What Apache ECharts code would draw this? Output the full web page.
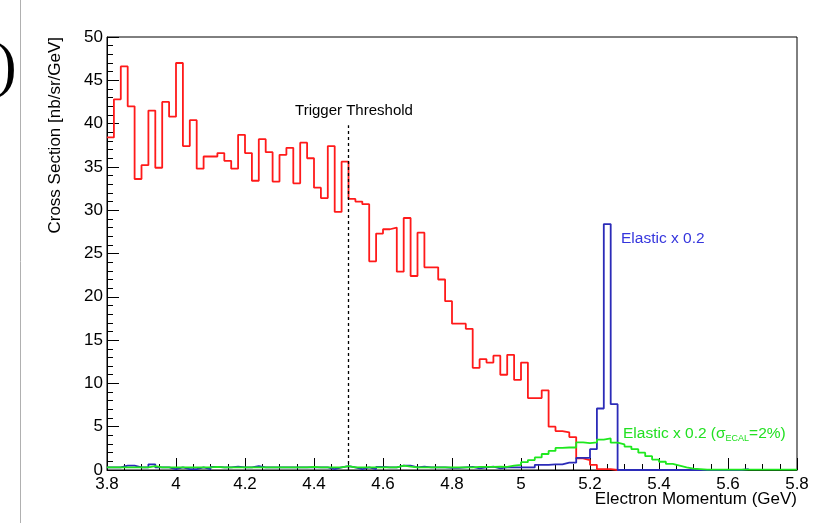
<!DOCTYPE html>
<html>
<head>
<meta charset="utf-8">
<script src="https://cdn.jsdelivr.net/npm/echarts@6/dist/echarts.min.js"></script>
<style>
  html, body { margin: 0; padding: 0; background: #fff; }
  #chart { width: 814px; height: 523px; }
</style>
</head>
<body>
<div id="chart"></div>
<script>
// histogram binning (GeV)
var binStart = 3.8;
var binWidth = 0.02;

// inclusive cross section, one value per 0.02 GeV bin from 3.80
var redValues = [
  38.4, 42.8, 46.6, 42.0, 33.6, 35.2, 41.5, 34.9, 42.5, 40.8,
  47.0, 37.4, 40.4, 34.8, 36.2, 36.2, 36.6, 35.7, 34.8, 38.7,
  36.6, 33.4, 38.2, 36.7, 33.3, 36.4, 37.2, 33.1, 37.8, 36.0,
  32.6, 31.4, 37.4, 29.8, 35.6, 31.3, 31.0, 30.7, 24.1, 27.3,
  27.8, 28.0, 22.9, 29.1, 22.4, 27.4, 23.4, 23.4, 22.0, 19.5,
  16.9, 16.9, 16.3, 11.8, 12.8, 12.4, 13.2, 11.0, 13.3, 10.4,
  12.4, 8.3, 8.3, 9.2, 5.0, 4.5, 4.35, 3.8, 1.35, 1.15,
  0.6, 0.1, 0.1, 0, 0
];

// elastic x 0.2
var blueValues = [
  0.3, 0.3, 0.5, 0.5, 0.3, 0.3, 0.65, 0.3, 0.3, 0.1,
  0.3, 0.1, 0.1, 0.3, 0.1, 0.35, 0.3, 0.3, 0.4, 0.3,
  0.3, 0.45, 0.3, 0.3, 0.3, 0.3, 0.3, 0.3, 0.3, 0.3,
  0.3, 0.3, 0.1, 0.3, 0.45, 0.3, 0.1, 0.3, 0.1, 0.35,
  0.3, 0.3, 0.5, 0.5, 0.3, 0.4, 0.3, 0.3, 0.3, 0.25,
  0.25, 0.3, 0.35, 0.2, 0.3, 0.4, 0.2, 0.3, 0.3, 0.3,
  0.3, 0.3, 0.6, 0.6, 0.65, 0.65, 0.85, 0.85, 1.4, 1.4,
  2.4, 7.1, 28.4, 7.6, 0, 0, 0, 0, 0, 0,
  0, 0, 0, 0, 0, 0, 0, 0, 0, 0,
  0, 0, 0.1
];

// elastic x 0.2 smeared (sigma_ECAL = 2%)
var greenValues = [
  0.3, 0.3, 0.3, 0.3, 0.3, 0.3, 0.45, 0.3, 0.3, 0.3,
  0.3, 0.3, 0.3, 0.3, 0.3, 0.35, 0.3, 0.3, 0.3, 0.3,
  0.3, 0.3, 0.3, 0.3, 0.3, 0.3, 0.3, 0.3, 0.3, 0.35,
  0.3, 0.3, 0.3, 0.3, 0.45, 0.3, 0.3, 0.3, 0.3, 0.3,
  0.3, 0.3, 0.5, 0.4, 0.3, 0.3, 0.3, 0.3, 0.3, 0.3,
  0.3, 0.3, 0.3, 0.35, 0.35, 0.35, 0.4, 0.35, 0.5, 0.6,
  0.9, 1.15, 1.45, 1.85, 2.2, 2.55, 2.6, 2.6, 3.2, 3.1,
  3.2, 3.5, 3.65, 3.15, 2.95, 2.7, 2.4, 2.0, 1.6, 1.2,
  0.95, 0.7, 0.5, 0.3, 0.15, 0.1, 0.05, 0.05, 0.05, 0.05,
  0.05, 0.05, 0.05, 0.05, 0.05, 0.05, 0.05, 0.05, 0.05, 0.05
];

var thresholdX = 4.5;
var thresholdTop = 39.8;

var xTicks = { min: 3.8, max: 5.8, interval: 0.2 };
var yTicks = { min: 0, max: 50, interval: 5 };

var FONT = "'Liberation Sans', Arial, sans-serif";

// bin edges -> step points (last bin closes on its right edge)
function toSteps(values) {
  var pts = values.map(function (v, i) {
    return [+(binStart + i * binWidth).toFixed(2), v];
  });
  pts.push([+(binStart + values.length * binWidth).toFixed(2), values[values.length - 1]]);
  return pts;
}

var myChart = echarts.init(document.getElementById("chart"));

var option = {
  animation: false,
  backgroundColor: "#fff",
  grid: {
    left: 107,
    right: 17,
    top: 37,
    bottom: 53,
    show: true,
    borderColor: "#000",
    borderWidth: 1
  },
  xAxis: {
    type: "value",
    min: xTicks.min,
    max: xTicks.max,
    interval: xTicks.interval,
    axisLine: { show: true, onZero: false, lineStyle: { color: "#000", width: 1 } },
    axisTick: { show: true, inside: true, length: 12, lineStyle: { color: "#000" } },
    minorTick: { show: true, splitNumber: 4, length: 6, lineStyle: { color: "#000" } },
    axisLabel: { color: "#000", fontFamily: FONT, fontSize: 17, margin: 6 },
    splitLine: { show: false }
  },
  yAxis: {
    type: "value",
    min: yTicks.min,
    max: yTicks.max,
    interval: yTicks.interval,
    axisLine: { show: true, lineStyle: { color: "#000", width: 1 } },
    axisTick: { show: true, inside: true, length: 12, lineStyle: { color: "#000" } },
    minorTick: { show: true, splitNumber: 5, length: 6, lineStyle: { color: "#000" } },
    axisLabel: { color: "#000", fontFamily: FONT, fontSize: 17, margin: 4 },
    splitLine: { show: false }
  },
  series: [
    {
      name: "inclusive",
      type: "line",
      step: "end",
      showSymbol: false,
      data: toSteps(redValues),
      lineStyle: { color: "#ff1a1a", width: 1.8 },
      z: 2,
      markLine: {
        silent: true,
        symbol: "none",
        label: { show: false },
        lineStyle: { color: "#000", type: [3, 3], width: 1.3 },
        data: [[{ coord: [thresholdX, 0] }, { coord: [thresholdX, thresholdTop] }]]
      }
    },
    {
      name: "elastic",
      type: "line",
      step: "end",
      showSymbol: false,
      data: toSteps(blueValues),
      lineStyle: { color: "#2b2bb8", width: 1.8 },
      z: 3
    },
    {
      name: "elastic smeared",
      type: "line",
      step: "end",
      showSymbol: false,
      data: toSteps(greenValues),
      lineStyle: { color: "#1ee81e", width: 1.8 },
      z: 4
    }
  ],
  graphic: [
    // panel border from the neighbouring figure
    {
      type: "line",
      shape: { x1: 20.5, y1: 0, x2: 20.5, y2: 523 },
      style: { stroke: "#b0b0b0", lineWidth: 1 }
    },
    {
      type: "text",
      left: -4,
      top: 38,
      style: { text: ")", font: "62px 'Liberation Serif', serif", fill: "#000" }
    },
    {
      type: "text",
      x: 55,
      y: 37,
      rotation: Math.PI / 2,
      style: {
        text: "Cross Section [nb/sr/GeV]",
        font: "17px " + FONT,
        fill: "#000",
        textAlign: "right",
        textVerticalAlign: "middle"
      }
    },
    {
      type: "text",
      x: 797,
      y: 499,
      style: {
        text: "Electron Momentum (GeV)",
        font: "17px " + FONT,
        fill: "#000",
        textAlign: "right",
        textVerticalAlign: "middle"
      }
    },
    {
      type: "text",
      x: 354,
      y: 111,
      style: {
        text: "Trigger Threshold",
        font: "15px " + FONT,
        fill: "#000",
        textAlign: "center",
        textVerticalAlign: "middle"
      }
    },
    {
      type: "text",
      x: 621,
      y: 239,
      style: {
        text: "Elastic x 0.2",
        font: "15.5px " + FONT,
        fill: "#3535dd",
        textAlign: "left",
        textVerticalAlign: "middle"
      }
    },
    {
      type: "text",
      x: 623,
      y: 434,
      style: {
        text: "{a|Elastic x 0.2 (σ}{s|ECAL}{a|=2%)}",
        textAlign: "left",
        textVerticalAlign: "middle",
        fill: "#22e022",
        rich: {
          a: { fontFamily: FONT, fontSize: 15.5, fill: "#22e022", lineHeight: 18 },
          s: { fontFamily: FONT, fontSize: 9, fill: "#22e022", lineHeight: 18, padding: [9, 0, 0, 0] }
        }
      }
    }
  ]
};

option && myChart.setOption(option);
</script>
</body>
</html>
